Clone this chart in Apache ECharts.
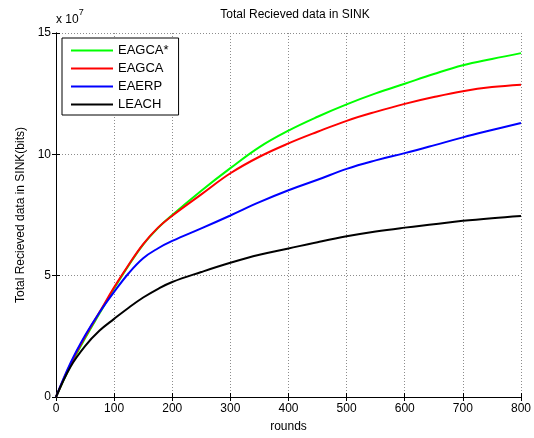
<!DOCTYPE html>
<html>
<head>
<meta charset="utf-8">
<script src="https://cdn.jsdelivr.net/npm/echarts@6/dist/echarts.min.js"></script>
<style>
html,body{margin:0;padding:0;background:#fff;}
#chart{width:534px;height:438px;}
</style>
</head>
<body>
<div id="chart"></div>
<script>
// Values in units of 1e7 bits
const rounds    = [0,25,50,75,100,125,150,175,200,250,300,350,400,450,500,550,600,650,700,750,800];
const eagcaStar = [0,1.3,2.42,3.45,4.47,5.42,6.28,6.95,7.5,8.5,9.43,10.3,10.98,11.55,12.06,12.51,12.91,13.31,13.67,13.93,14.17];
const eagca     = [0,1.35,2.48,3.5,4.52,5.45,6.3,6.97,7.47,8.35,9.22,9.9,10.45,10.93,11.38,11.75,12.08,12.36,12.6,12.77,12.87];
const eaerp     = [0,1.4,2.53,3.49,4.33,5.1,5.72,6.12,6.43,6.95,7.48,8.03,8.52,8.95,9.4,9.75,10.05,10.37,10.7,11.0,11.29];
const leach     = [0,1.25,2.1,2.74,3.22,3.68,4.1,4.45,4.74,5.15,5.53,5.86,6.12,6.38,6.62,6.82,6.98,7.12,7.26,7.37,7.46];
const seriesNames = ['EAGCA*','EAGCA','EAERP','LEACH'];
const seriesColors = ['#00ff00','#ff0000','#0000ff','#000000'];
const seriesData = [eagcaStar, eagca, eaerp, leach];

const FONT = 'Liberation Sans, Arial, sans-serif';
const chart = echarts.init(document.getElementById('chart'), null, {renderer:'canvas'});

const gridLine = {show:true, lineStyle:{color:'#8c8c8c', type:[1,2], width:1}};
const option = {
  backgroundColor:'#fff',
  animation:false,
  title:{
    text:'Total Recieved data in SINK',
    left:290, top:4, textAlign:'center',
    textStyle:{fontFamily:FONT, fontSize:12, fontWeight:'normal', color:'#000'}
  },
  graphic:[{
    type:'text', left:56, top:8,
    style:{
      text:'{a|x 10}{b|7}',
      rich:{
        a:{fontFamily:FONT, fontSize:12, color:'#000', padding:[6,0,0,0]},
        b:{fontFamily:FONT, fontSize:9, color:'#000', verticalAlign:'top', padding:[0,0,8,0]}
      }
    }
  }],
  legend:{
    orient:'vertical', left:62, top:38,
    data:seriesNames,
    itemWidth:42, itemHeight:14, itemGap:5,
    padding:[6,10,4,8],
    borderColor:'#000', borderWidth:1, backgroundColor:'#fff',
    textStyle:{fontFamily:FONT, fontSize:13, color:'#000'},
    itemStyle:{opacity:0}
  },
  grid:{left:56, right:10, top:33, bottom:38, containLabel:false},
  xAxis:[{
    type:'value', min:0, max:800, interval:100,
    name:'rounds', nameLocation:'middle', nameGap:24,
    nameTextStyle:{fontFamily:FONT, fontSize:12, color:'#000'},
    axisLine:{show:true, lineStyle:{color:'#000', width:1}},
    axisTick:{show:true, inside:true, length:4, lineStyle:{color:'#000'}},
    axisLabel:{fontFamily:FONT, fontSize:12, color:'#000', margin:6},
    splitLine:gridLine
  },{
    type:'value', min:0, max:800, interval:100, position:'top',
    axisLine:{show:true, lineStyle:{color:'#000', width:1}},
    axisTick:{show:true, inside:true, length:4, lineStyle:{color:'#000'}},
    axisLabel:{show:false}, splitLine:{show:false}
  }],
  yAxis:[{
    type:'value', min:0, max:15, interval:5,
    name:'Total Recieved data in SINK(bits)', nameLocation:'middle', nameGap:29,
    nameTextStyle:{fontFamily:FONT, fontSize:12, color:'#000'},
    axisLine:{show:true, lineStyle:{color:'#000', width:1}},
    axisTick:{show:true, inside:true, length:4, lineStyle:{color:'#000'}},
    axisLabel:{fontFamily:FONT, fontSize:12, color:'#000', margin:5},
    splitLine:gridLine
  },{
    type:'value', min:0, max:15, interval:5, position:'right',
    axisLine:{show:true, lineStyle:{color:'#000', width:1}},
    axisTick:{show:true, inside:true, length:4, lineStyle:{color:'#000'}},
    axisLabel:{show:false}, splitLine:{show:false}
  }],
  series: seriesNames.map((n,i)=>({
    name:n, type:'line', xAxisIndex:0, yAxisIndex:0,
    data: rounds.map((r,k)=>[r, seriesData[i][k]]),
    smooth:0.4, symbol:'none', showSymbol:false,
    color:seriesColors[i],
    lineStyle:{color:seriesColors[i], width:2}
  }))
};
chart.setOption(option);
</script>
</body>
</html>
